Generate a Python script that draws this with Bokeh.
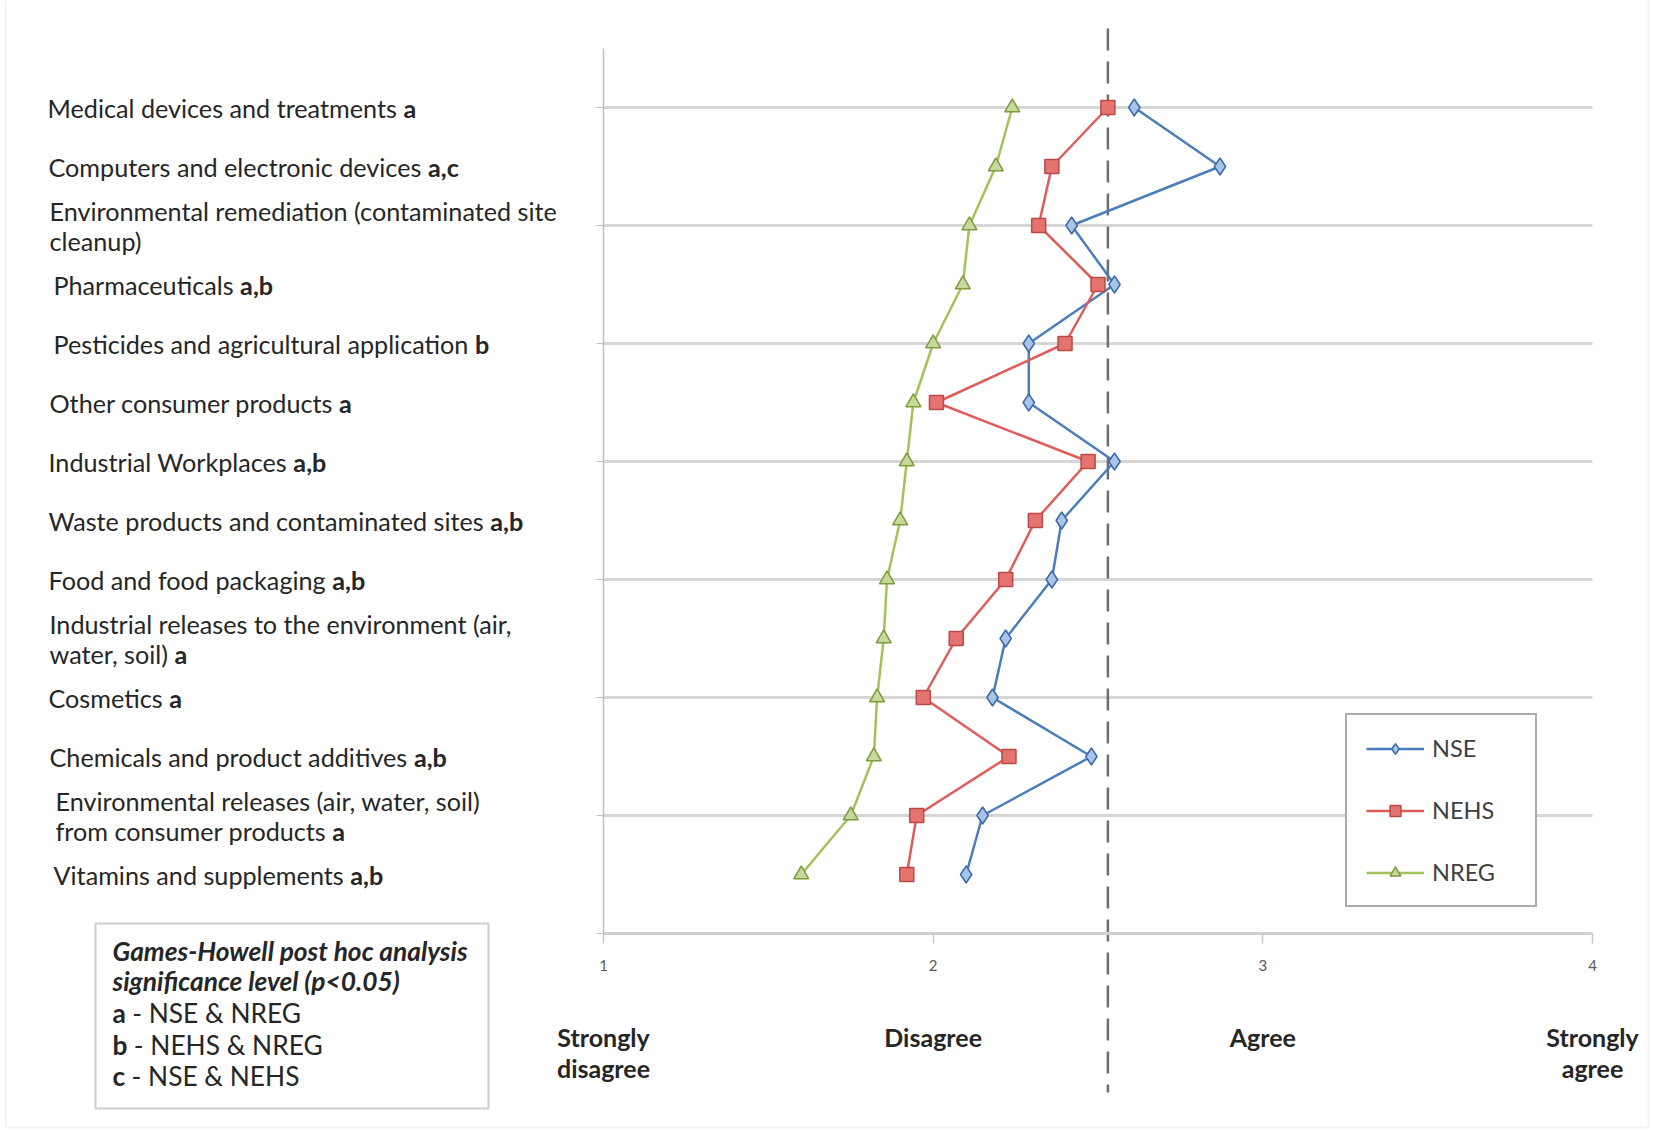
import glob
from bokeh.plotting import figure
from bokeh.models import (Range1d, FixedTicker, LinearAxis, Label, BoxAnnotation,
                          Legend, LegendItem)
from bokeh.embed import file_html
from bokeh.resources import INLINE

# ---------------- data (top to bottom) ----------------
categories = [
    "Medical devices and treatments",
    "Computers and electronic devices",
    "Environmental remediation (contaminated site\ncleanup)",
    "Pharmaceuticals",
    "Pesticides and agricultural application",
    "Other consumer products",
    "Industrial Workplaces",
    "Waste products and contaminated sites",
    "Food and food packaging",
    "Industrial releases to the environment (air,\nwater, soil)",
    "Cosmetics",
    "Chemicals and product additives",
    "Environmental releases (air, water, soil)\nfrom consumer products",
    "Vitamins and supplements",
]
suffixes = ["a", "a,c", "", "a,b", "b", "a", "a,b", "a,b", "a,b", "a", "a", "a,b", "a", "a,b"]

nse  = [2.61, 2.87, 2.42, 2.55, 2.29, 2.29, 2.55, 2.39, 2.36, 2.22, 2.18, 2.48, 2.15, 2.10]
nehs = [2.53, 2.36, 2.32, 2.50, 2.40, 2.01, 2.47, 2.31, 2.22, 2.07, 1.97, 2.23, 1.95, 1.92]
nreg = [2.24, 2.19, 2.11, 2.09, 2.00, 1.94, 1.92, 1.90, 1.86, 1.85, 1.83, 1.82, 1.75, 1.60]

series_names = ["NSE", "NEHS", "NREG"]
x_ticks = [1, 2, 3, 4]
x_words = ["Strongly\ndisagree", "Disagree", "Agree", "Strongly\nagree"]
y_grid_ticks = [2, 4, 6, 8, 10, 12, 14]
y_axis_ticks = [0, 2, 4, 6, 8, 10, 12, 14]
reference_value = 2.53

note_title = ["Games-Howell post hoc analysis", "significance level (p<0.05)"]
note_keys = ["a", "b", "c"]
note_pairs = ["- NSE & NREG", "- NEHS & NREG", "- NSE & NEHS"]

ypos = list(range(len(categories), 0, -1))

# ---------------- layout helpers (canvas pixels -> data) ----------------
W, H = 1650, 1130
FR_L, FR_R, FR_T, FR_B = 603, 1592, 48, 933   # where x=1..4, y=15..0 sit
SX = (FR_R - FR_L) / 3.0
SY = (FR_B - FR_T) / 15.0

def px_x(px):
    return 1 + (px - FR_L) / SX

def px_y(py):
    return (FR_B - py) / SY

try:
    from PIL import ImageFont
except Exception:
    ImageFont = None

_font_cache = {}
def _font_path(fname):
    if fname not in _font_cache:
        r = glob.glob("/usr/share/fonts/**/" + fname, recursive=True) + \
            glob.glob("/usr/local/share/fonts/**/" + fname, recursive=True)
        _font_cache[fname] = r[0] if r else None
    return _font_cache[fname]

def text_w(text, size, bold=False, italic=False):
    style = "BoldItalic" if (bold and italic) else "Bold" if bold else "Italic" if italic else "Regular"
    path = _font_path("Lato-%s.ttf" % style)
    if ImageFont is not None and path:
        try:
            f = ImageFont.truetype(path, size=int(round(size * 10)))
            return f.getlength(text) / 10.0
        except Exception:
            pass
    return len(text) * size * (0.53 if bold else 0.49)

def fit(text, target, bold=False, italic=False, lo=15, hi=26):
    s = 20 * target / max(1.0, text_w(text, 20, bold, italic))
    return max(lo, min(hi, s))

FONT = "Lato"
fs = (fit("Medical devices and treatments", 348) + fit("Environmental remediation (contaminated site", 509)) / 2
fs_note = fit("Games-Howell post hoc analysis", 355, bold=True, italic=True, hi=27)
TXT = "#262626"

# ---------------- figure: frame covers the whole canvas ----------------
p = figure(width=W, height=H,
           x_range=Range1d(px_x(0), px_x(W)), y_range=Range1d(px_y(H), px_y(0)),
           output_backend="svg", toolbar_location=None,
           x_axis_location=None, y_axis_location=None,
           min_border=0, min_border_left=0, min_border_right=0,
           min_border_top=0, min_border_bottom=0)
p.outline_line_color = None
p.background_fill_color = "white"
p.border_fill_color = "white"
p.grid.visible = False

# outer chart border
p.add_layout(BoxAnnotation(left=px_x(5), right=px_x(1648), top=px_y(-6), bottom=px_y(1127),
                           fill_alpha=0, line_color="#d6d6d6", line_width=2))

# horizontal gridlines across the plot area
p.segment(x0=x_ticks[0], x1=x_ticks[-1], y0=y_grid_ticks, y1=y_grid_ticks,
          line_color="#d6d6d6", line_width=3)

# x axis (numeric)
xa = LinearAxis(fixed_location=0, bounds=(x_ticks[0], x_ticks[-1]),
                ticker=FixedTicker(ticks=x_ticks))
xa.axis_line_color = "#d0d0d0"
xa.axis_line_width = 3
xa.major_tick_out = 10
xa.major_tick_in = 0
xa.major_tick_line_color = "#c8c8c8"
xa.major_tick_line_width = 1.5
xa.minor_tick_line_color = None
xa.major_label_text_font = FONT
xa.major_label_text_font_size = "15px"
xa.major_label_text_color = "#595959"
xa.major_label_standoff = 16
p.add_layout(xa, "below")

# x axis (verbal scale)
xw = LinearAxis(fixed_location=0, bounds=(x_ticks[0], x_ticks[-1]),
                ticker=FixedTicker(ticks=x_ticks),
                major_label_overrides={t: w for t, w in zip(x_ticks, x_words)})
xw.axis_line_color = None
xw.major_tick_line_color = None
xw.minor_tick_line_color = None
xw.major_tick_out = 0
xw.major_tick_in = 0
xw.major_label_standoff = 88
xw.major_label_text_font = FONT
xw.major_label_text_font_style = "bold"
xw.major_label_text_font_size = "25px"
xw.major_label_text_color = TXT
xw.major_label_text_line_height = 1.05
p.add_layout(xw, "below")

# y axis (line + ticks only)
ya = LinearAxis(fixed_location=x_ticks[0], bounds=(0, 15),
                ticker=FixedTicker(ticks=y_axis_ticks),
                major_label_overrides={t: "" for t in y_axis_ticks})
ya.axis_line_color = "#bfbfbf"
ya.axis_line_width = 1.5
ya.major_tick_out = 7
ya.major_tick_in = 0
ya.major_tick_line_color = "#bfbfbf"
ya.minor_tick_line_color = None
p.add_layout(ya, "left")

# reference dashed line
p.segment(x0=reference_value, x1=reference_value, y0=px_y(28), y1=px_y(1092),
          line_color="#6f6f6f", line_width=2.5, line_dash="22 11")

# ---------------- series ----------------
styles = [
    dict(marker="diamond", size=17, line="#4a7ebb", fill="#a9c4e6", edge="#3a6aa8"),
    dict(marker="square", size=14, line="#e05c5a", fill="#e57370", edge="#b94a47"),
    dict(marker="triangle", size=15, line="#a4c25a", fill="#c6d99c", edge="#7f9a3c"),
]
items = []
for name, vals, st in zip(series_names, [nse, nehs, nreg], styles):
    l = p.line(vals, ypos, line_color=st["line"], line_width=2.5)
    s = p.scatter(vals, ypos, marker=st["marker"], size=st["size"],
                  fill_color=st["fill"], line_color=st["edge"], line_width=1.5)
    items.append(LegendItem(label=name, renderers=[l, s]))

legend = Legend(items=items, location=(1345, H - 907))
legend.border_line_color = "#595959"
legend.border_line_width = 2
legend.background_fill_color = "white"
legend.background_fill_alpha = 1
legend.padding = 19
legend.spacing = 34
legend.glyph_width = 58
legend.glyph_height = 27
legend.label_height = 27
legend.label_width = 84
legend.label_standoff = 8
legend.margin = 0
legend.label_text_font = FONT
legend.label_text_font_size = "23.5px"
legend.label_text_color = "#404040"
p.add_layout(legend, "center")

# ---------------- category labels ----------------
label_left = [47, 48, 49, 53, 53, 49, 48, 48, 48, 49, 48, 49, 55, 53]
LINE_GAP = 30
for cat, suf, yv, lx in zip(categories, suffixes, ypos, label_left):
    lines = cat.split("\n")
    cy = FR_B - yv * SY
    n = len(lines)
    for i, ln in enumerate(lines):
        py = cy + (i - (n - 1) / 2.0) * LINE_GAP
        p.add_layout(Label(x=px_x(lx), y=px_y(py), text=ln, text_font=FONT,
                           text_font_size="%.1fpx" % fs, text_color=TXT,
                           text_align="left", text_baseline="middle"))
        if i == n - 1 and suf:
            sx = lx + text_w(ln + " ", fs)
            p.add_layout(Label(x=px_x(sx), y=px_y(py), text=suf, text_font=FONT,
                               text_font_size="%.1fpx" % fs, text_font_style="bold",
                               text_color=TXT, text_align="left", text_baseline="middle"))

# ---------------- significance note box ----------------
p.add_layout(BoxAnnotation(left=px_x(95), right=px_x(488), top=px_y(923), bottom=px_y(1108),
                           fill_color="white", fill_alpha=1, line_color="#595959",
                           line_width=2))
NOTE_X = 112
note_y = [950, 980, 1012, 1044, 1075]
for t, py in zip(note_title, note_y[:2]):
    p.add_layout(Label(x=px_x(NOTE_X), y=px_y(py), text=t, text_font=FONT,
                       text_font_size="%.1fpx" % fs_note, text_font_style="bold italic",
                       text_color=TXT, text_align="left", text_baseline="middle"))
for k, pr, py in zip(note_keys, note_pairs, note_y[2:]):
    p.add_layout(Label(x=px_x(NOTE_X), y=px_y(py), text=k, text_font=FONT,
                       text_font_size="%.1fpx" % fs_note, text_font_style="bold",
                       text_color=TXT, text_align="left", text_baseline="middle"))
    p.add_layout(Label(x=px_x(NOTE_X + text_w(k + " ", fs_note, bold=True)), y=px_y(py), text=pr,
                       text_font=FONT, text_font_size="%.1fpx" % fs_note,
                       text_color=TXT, text_align="left", text_baseline="middle"))

open("out.html", "w").write(file_html(p, INLINE))
